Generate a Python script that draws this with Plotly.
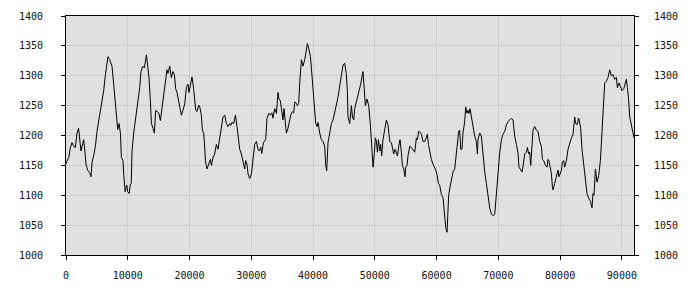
import plotly.graph_objects as go

x_vals = [0, 100, 440, 710, 970, 1240, 1510, 1780, 2040, 2210, 2420, 2700, 2870, 2980, 3240, 3510, 3790,
          4050, 4210, 4480, 4760, 5020, 5290, 5570, 5830, 6100, 6380, 6640, 6800, 7070, 7290, 7450, 7720,
          8000, 8260, 8370, 8580, 8810, 8970, 9230, 9340, 9500, 9580, 9830, 9990, 10230, 10390, 10560,
          10690, 10960, 11070, 11330, 11610, 11930, 12140, 12420, 12690, 12860, 13020, 13230, 13440, 13660,
          13830, 14090, 14310, 14520, 14730, 15010, 15280, 15600, 15820, 16090, 16350, 16510, 16790, 17060,
          17320, 17550, 17760, 17970, 18250, 18520, 18680, 18940, 19220, 19490, 19750, 19910, 20140, 20400,
          20680, 20840, 21000, 21210, 21480, 21650, 21920, 22080, 22290, 22410, 22570, 22830, 23150, 23380,
          23540, 23800, 24070, 24350, 24610, 24880, 25160, 25420, 25690, 25970, 26230, 26500, 26670, 26880,
          27150, 27430, 27690, 27960, 28120, 28400, 28660, 28930, 29090, 29300, 29470, 29740, 30020, 30280,
          30550, 30830, 31060, 31270, 31540, 31700, 31960, 32330, 32540, 32820, 33090, 33350, 33510, 33790,
          34070, 34320, 34490, 34710, 34870, 35130, 35300, 35520, 35680, 35940, 36100, 36380, 36660, 36870,
          37030, 37300, 37460, 37680, 37840, 38110, 38370, 38650, 38920, 39080, 39290, 39570, 39730, 39990,
          40270, 40430, 40640, 40800, 41080, 41350, 41610, 41880, 42050, 42210, 42420, 42690, 42970, 43230,
          43500, 43780, 44040, 44310, 44590, 44850, 45120, 45400, 45560, 45660, 45930, 46210, 46370, 46580,
          46740, 47020, 47280, 47550, 47710, 47990, 48090, 48250, 48470, 48730, 49010, 49280, 49450, 49610,
          49710, 49930, 50090, 50260, 50420, 50580, 50790, 50950, 51110, 51320, 51550, 51870, 52130, 52410,
          52680, 52850, 53060, 53270, 53490, 53660, 53870, 54080, 54300, 54460, 54680, 54890, 55000, 55210,
          55370, 55650, 55920, 56180, 56460, 56730, 56890, 57100, 57380, 57540, 57800, 58080, 58350, 58510,
          58680, 58890, 59160, 59420, 59690, 59860, 60070, 60290, 60500, 60780, 61040, 61310, 61480, 61690,
          61850, 61960, 62230, 62400, 62660, 62930, 63210, 63370, 63580, 63740, 63900, 64110, 64270, 64550,
          64710, 64920, 65080, 65250, 65410, 65640, 65890, 66170, 66440, 66610, 66700, 66980, 67250, 67510,
          67790, 68060, 68320, 68600, 68870, 69130, 69410, 69680, 69940, 70220, 70490, 70750, 71030, 71300,
          71560, 71840, 72110, 72370, 72650, 72920, 73180, 73340, 73620, 73830, 74050, 74260, 74540, 74700,
          74910, 75070, 75240, 75450, 75610, 75880, 76160, 76420, 76690, 76970, 77130, 77340, 77620, 77880,
          78040, 78200, 78430, 78590, 78750, 78850, 79120, 79400, 79660, 79820, 80050, 80210, 80370, 80580,
          80740, 81020, 81280, 81550, 81830, 82090, 82360, 82520, 82730, 83010, 83170, 83330, 83540, 83820,
          84090, 84350, 84630, 84900, 85160, 85320, 85490, 85710, 85970, 86250, 86520, 86780, 87060, 87220,
          87490, 87750, 88030, 88300, 88560, 88840, 89110, 89270, 89530, 89760, 90020, 90290, 90460, 90730,
          90890, 91060, 91270, 91540, 91800, 91960]

y_vals = [1152, 1156, 1163, 1180, 1188, 1182, 1180, 1204, 1212, 1188, 1174, 1186, 1193, 1182, 1152, 1142, 1138,
          1131, 1155, 1166, 1182, 1207, 1223, 1240, 1256, 1275, 1302, 1318, 1332, 1327, 1322, 1316, 1286,
          1253, 1223, 1210, 1220, 1204, 1163, 1158, 1135, 1122, 1106, 1117, 1106, 1103, 1117, 1120,
          1174, 1204, 1212, 1237, 1251, 1280, 1307, 1316, 1313, 1329, 1335, 1316, 1297, 1258,
          1220, 1212, 1204, 1242, 1240, 1238, 1225, 1253, 1266, 1288, 1310, 1304, 1316, 1297,
          1307, 1302, 1278, 1272, 1258, 1242, 1234, 1242, 1253, 1280, 1286, 1272, 1283, 1298,
          1277, 1264, 1242, 1240, 1251, 1248, 1234, 1209, 1204, 1188, 1158, 1144, 1152, 1160,
          1150, 1163, 1169, 1185, 1177, 1193, 1212, 1231, 1234, 1220, 1215, 1220, 1217, 1222,
          1220, 1234, 1215, 1196, 1177, 1169, 1155, 1144, 1158, 1152, 1136, 1128, 1136, 1160,
          1185, 1190, 1178, 1174, 1180, 1170, 1188, 1193, 1229, 1237, 1234, 1238, 1229, 1245,
          1237, 1272, 1261, 1258, 1242, 1226, 1245, 1220, 1204, 1212, 1222, 1234, 1240, 1238,
          1256, 1254, 1250, 1254, 1288, 1327, 1316, 1327, 1343, 1354, 1346, 1332, 1313, 1272,
          1237, 1220, 1215, 1222, 1204, 1193, 1190, 1182, 1150, 1141, 1188, 1207, 1220, 1226,
          1237, 1250, 1264, 1283, 1302, 1318, 1321, 1302, 1272, 1231, 1220, 1250, 1231, 1226,
          1245, 1256, 1267, 1278, 1286, 1302, 1307, 1283, 1250, 1261, 1250, 1218, 1188, 1155,
          1147, 1172, 1196, 1190, 1172, 1193, 1174, 1185, 1166, 1193, 1209, 1226, 1218, 1190,
          1188, 1180, 1169, 1177, 1172, 1166, 1182, 1193, 1172, 1150, 1144, 1131, 1147, 1150,
          1166, 1182, 1180, 1177, 1172, 1196, 1193, 1207, 1205, 1202, 1190, 1190, 1199, 1202,
          1185, 1171, 1160, 1152, 1147, 1142, 1134, 1120, 1117, 1101, 1096, 1063, 1046, 1038,
          1080, 1101, 1117, 1124, 1139, 1144, 1174, 1182, 1207, 1209, 1177, 1177, 1204, 1223,
          1248, 1237, 1242, 1237, 1245, 1231, 1215, 1199, 1190, 1169, 1193, 1204, 1199, 1169,
          1139, 1120, 1095, 1079, 1068, 1066, 1068, 1101, 1142, 1171, 1193, 1202, 1207, 1218,
          1223, 1227, 1229, 1226, 1199, 1185, 1171, 1147, 1142, 1139, 1152, 1169, 1172, 1180,
          1169, 1172, 1150, 1182, 1209, 1215, 1209, 1207, 1190, 1182, 1160, 1158, 1150, 1147,
          1160, 1157, 1142, 1136, 1114, 1109, 1120, 1131, 1142, 1131, 1139, 1142, 1155, 1158,
          1147, 1158, 1177, 1188, 1196, 1202, 1231, 1220, 1218, 1229, 1222, 1212, 1177, 1150,
          1128, 1103, 1095, 1090, 1079, 1103, 1100, 1144, 1122, 1133, 1158, 1209, 1261, 1288,
          1291, 1297, 1310, 1300, 1302, 1294, 1297, 1280, 1288, 1280, 1275, 1278, 1283, 1294,
          1280, 1264, 1231, 1218, 1209, 1196]

x_ticks = [0, 10000, 20000, 30000, 40000, 50000, 60000, 70000, 80000, 90000]
y_ticks = [1000, 1050, 1100, 1150, 1200, 1250, 1300, 1350, 1400]

font = dict(family="DejaVu Sans Mono", size=10, color="#111111")

fig = go.Figure()
fig.add_trace(go.Scatter(x=x_vals, y=y_vals, mode="lines",
                         line=dict(color="black", width=1), hoverinfo="skip", showlegend=False))
fig.add_trace(go.Scatter(x=x_vals, y=y_vals, mode="lines", yaxis="y2",
                         line=dict(color="rgba(0,0,0,0)", width=1), hoverinfo="skip", showlegend=False))

axis_common = dict(showline=True, linecolor="black", linewidth=1, ticks="outside", ticklen=4,
                   tickcolor="black", tickwidth=1, gridcolor="#cfcfcf", gridwidth=1,
                   zeroline=False, tickfont=font)

fig.update_layout(
    width=700, height=300,
    margin=dict(l=66, r=66, t=10, b=45),
    paper_bgcolor="white", plot_bgcolor="#e0e0e0",
    showlegend=False,
    xaxis=dict(range=[0, 91960], tickvals=x_ticks, ticktext=[str(v) for v in x_ticks],
               mirror=True, ticklabelstandoff=7, **axis_common),
    yaxis=dict(range=[1000, 1400], tickvals=y_ticks, ticktext=[str(v) for v in y_ticks],
               ticklabelstandoff=16, **axis_common),
    yaxis2=dict(range=[1000, 1400], tickvals=y_ticks, ticktext=[str(v) for v in y_ticks],
                overlaying="y", side="right", showgrid=False,
                ticklabelstandoff=13,
                **{k: v for k, v in axis_common.items() if k not in ("gridcolor", "gridwidth")}),
)

fig.write_html("out.html")
